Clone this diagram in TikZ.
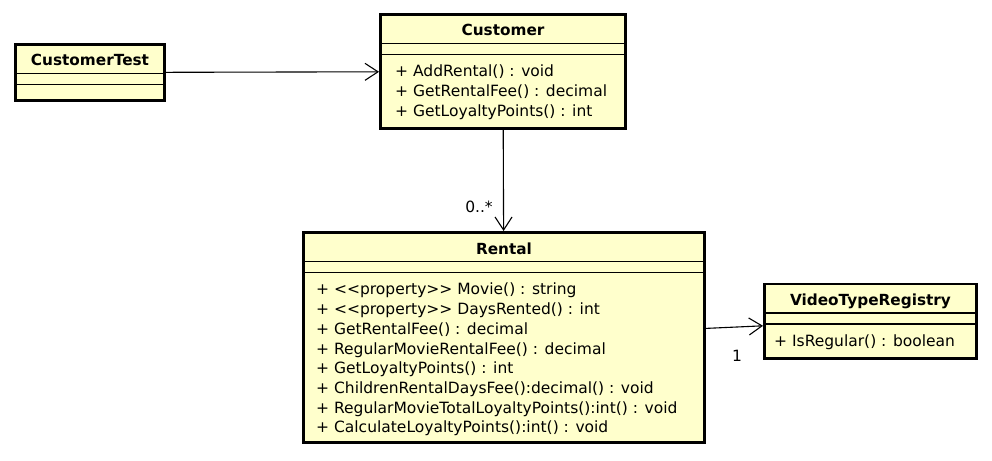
\documentclass[tikz,border=0pt]{standalone}
\usepackage{fontspec}
\setmainfont{DejaVu Sans}
\usetikzlibrary{arrows.meta}
\definecolor{umlfill}{HTML}{FFFFCC}
\begin{document}
\begin{tikzpicture}[x=1pt,y=-1pt,
    class/.style={rectangle, draw=black, fill=umlfill, line width=2.8pt, inner sep=0pt},
    classname/.style={anchor=base, font=\bfseries\fontsize{15.3}{18}\selectfont},
    ops/.style={anchor=north west, align=left, inner sep=0pt, font=\fontsize{15.5}{19.7}\selectfont},
    sep/.style={line width=1.3pt},
    assoc/.style={-{Straight Barb[length=13pt,width=17pt]}, line width=1.1pt},
    mult/.style={font=\fontsize{15.5}{18}\selectfont}]
  \useasboundingbox (0,0) rectangle (992,460);

  % classes
  \node[class, minimum width=149.2pt, minimum height=56.2pt] (ct) at (90,72.5) {};
  \node[classname] (ct-name) at ([yshift=-23pt]ct.north) {CustomerTest};
  \draw[sep] ([yshift=-30.5pt]ct.north west) -- ([yshift=-30.5pt]ct.north east);
  \draw[sep] ([yshift=-41.5pt]ct.north west) -- ([yshift=-41.5pt]ct.north east);

  \node[class, minimum width=245.2pt, minimum height=114.2pt] (cust) at (503,71.5) {};
  \node[classname] (cust-name) at ([yshift=-23pt]cust.north) {Customer};
  \draw[sep] ([yshift=-30.5pt]cust.north west) -- ([yshift=-30.5pt]cust.north east);
  \draw[sep] ([yshift=-41.5pt]cust.north west) -- ([yshift=-41.5pt]cust.north east);
  \node[ops] (cust-ops) at ([xshift=16pt,yshift=-52pt]cust.north west)
    {+ AddRental() : void\\+ GetRentalFee() : decimal\\+ GetLoyaltyPoints() : int};

  \node[class, minimum width=401.2pt, minimum height=210.2pt] (rent) at (504,337.5) {};
  \node[classname] (rent-name) at ([yshift=-23pt]rent.north) {Rental};
  \draw[sep] ([yshift=-30.5pt]rent.north west) -- ([yshift=-30.5pt]rent.north east);
  \draw[sep] ([yshift=-41.5pt]rent.north west) -- ([yshift=-41.5pt]rent.north east);
  \node[ops] (rent-ops) at ([xshift=14pt,yshift=-52pt]rent.north west)
    {+ <{}<property>{}> Movie() : string\\
     + <{}<property>{}> DaysRented() : int\\
     + GetRentalFee() : decimal\\
     + RegularMovieRentalFee() : decimal\\
     + GetLoyaltyPoints() : int\\
     + ChildrenRentalDaysFee():decimal() : void\\
     + RegularMovieTotalLoyaltyPoints():int() : void\\
     + CalculateLoyaltyPoints():int() : void};

  \node[class, minimum width=212.2pt, minimum height=74.2pt] (vtr) at (870.5,321) {};
  \node[classname] (vtr-name) at ([yshift=-23pt]vtr.north) {VideoTypeRegistry};
  \draw[sep] ([yshift=-30.5pt]vtr.north west) -- ([yshift=-30.5pt]vtr.north east);
  \draw[sep] ([yshift=-41.5pt]vtr.north west) -- ([yshift=-41.5pt]vtr.north east);
  \node[ops] (vtr-ops) at ([xshift=11pt,yshift=-52pt]vtr.north west) {+ IsRegular() : boolean};

  % associations
  \draw[assoc] (ct) -- (cust);
  \draw[assoc] (cust) -- (rent);
  \draw[assoc] (rent) -- (vtr);

  \node[mult] (rent-many) at (479,207) {0..*};
  \node[mult] (vtr-one) at (737,356) {1};
\end{tikzpicture}
\end{document}
